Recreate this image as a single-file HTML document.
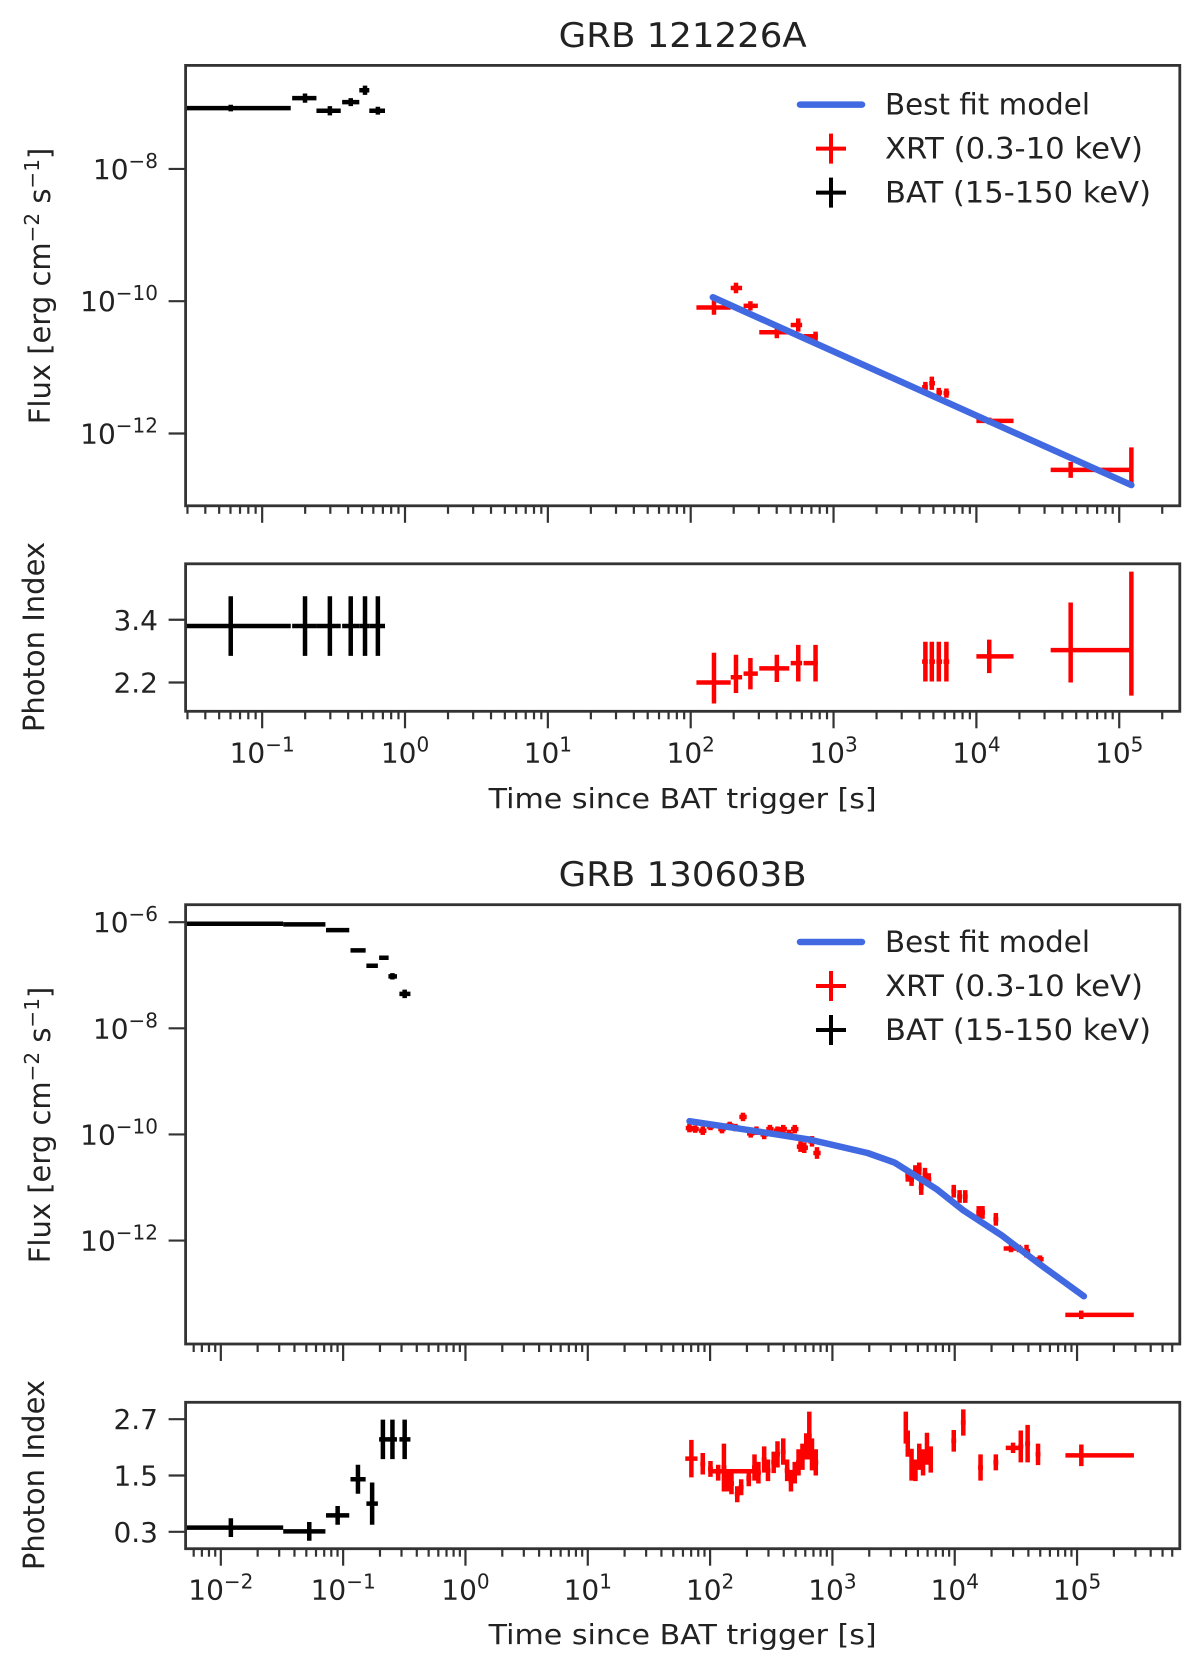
<!DOCTYPE html>
<html><head><meta charset="utf-8"><style>
html,body{margin:0;padding:0;background:#fff;}
svg{display:block;font-family:"DejaVu Sans","Liberation Sans",sans-serif;}
</style></head><body>
<svg id="fig" width="1200" height="1672" viewBox="0 0 1200 1672" xmlns="http://www.w3.org/2000/svg"></svg>
<script>
// ---------- GRB 121226A data (log10 time [s], log10 flux, photon index) ----------
const g1BatT   = [-1.22,-0.70,-0.526,-0.38,-0.28,-0.19];
const g1BatLo  = [-1.8,-0.79,-0.62,-0.44,-0.32,-0.25];
const g1BatHi  = [-0.80,-0.62,-0.45,-0.32,-0.25,-0.14];
const g1BatF   = [-7.08,-6.93,-7.12,-6.99,-6.81,-7.12];
const g1BatFe  = [0.05,0.07,0.07,0.06,0.07,0.06];
const g1BatIdx = [3.28,3.28,3.28,3.28,3.28,3.28];
const g1BatIe  = [0.57,0.57,0.57,0.57,0.57,0.57];

const g1XrtT   = [2.163,2.317,2.418,2.603,2.753,2.874,3.643,3.688,3.737,3.79,4.09,4.66,5.085];
const g1XrtLo  = [2.04,2.28,2.37,2.48,2.70,2.79,3.62,3.67,3.72,3.77,4.00,4.52,5.085];
const g1XrtHi  = [2.28,2.36,2.47,2.69,2.78,2.89,3.66,3.71,3.76,3.81,4.26,5.08,5.085];
const g1XrtF   = [-10.095,-9.80,-10.07,-10.47,-10.36,-10.53,-11.30,-11.24,-11.38,-11.39,-11.81,-12.55,-12.50];
const g1XrtFe  = [0.11,0.08,0.07,0.09,0.1,0.07,0.08,0.1,0.07,0.07,0.05,0.12,0.29];
const g1XrtIdx = [2.2,2.3,2.37,2.47,2.57,2.57,2.6,2.6,2.6,2.6,2.7,2.82,2.82];
const g1XrtIup = [0.57,0.43,0.3,0.26,0.35,0.35,0.38,0.38,0.38,0.38,0.32,0.91,1.5];
const g1XrtIdn = [0.40,0.30,0.3,0.26,0.35,0.35,0.38,0.38,0.38,0.38,0.32,0.62,0.87];
const g1ModelT = [2.155,5.085];
const g1ModelF = [-9.94,-12.78];

// ---------- GRB 130603B data ----------
const g2BatT   = [-1.918,-1.277,-1.045,-0.879,-0.763,-0.675,-0.597,-0.497];
const g2BatLo  = [-2.6,-1.49,-1.14,-0.94,-0.81,-0.706,-0.63,-0.54];
const g2BatHi  = [-1.49,-1.145,-0.95,-0.816,-0.716,-0.628,-0.56,-0.45];
const g2BatF   = [-6.03,-6.04,-6.15,-6.53,-6.82,-6.67,-7.02,-7.35];
const g2BatFe  = [0.01,0.01,0.01,0.01,0.01,0.03,0.06,0.08];
const g2BatIdx = [0.39,0.31,0.65,1.42,0.90,2.27,2.27,2.27];
const g2BatIe  = [0.2,0.2,0.2,0.31,0.45,0.42,0.42,0.42];

const g2XrtT  = [1.831,1.878,1.94,2.003,2.097,2.16,2.207,2.269,2.332,2.379,2.442,2.489,2.551,2.598,2.645,2.692,2.739,2.77,2.833,2.874,
                 3.616,3.647,3.678,3.71,3.726,3.757,3.788,3.992,4.04,4.086,4.196,4.227,4.336,4.46,4.525,4.587,4.697,5.034];
const g2XrtF  = [-9.88,-9.90,-9.93,-9.85,-9.90,-9.83,-9.87,-9.67,-9.98,-9.93,-10.0,-9.90,-9.93,-9.90,-10.0,-9.90,-10.23,-10.25,-10.13,-10.35,
                 -10.77,-10.85,-10.70,-10.65,-11.0,-10.75,-10.85,-11.07,-11.17,-11.17,-11.47,-11.47,-11.60,-12.15,-12.15,-12.20,-12.35,-13.40];
const g2XrtFe = [0.08,0.07,0.08,0.07,0.08,0.07,0.07,0.08,0.08,0.08,0.09,0.08,0.08,0.08,0.09,0.08,0.1,0.1,0.1,0.11,
                 0.12,0.12,0.12,0.12,0.14,0.12,0.12,0.12,0.12,0.12,0.12,0.12,0.12,0.07,0.07,0.12,0.07,0.08];
const g2XrtXl = [0.03,0.03,0.03,0.03,0.03,0.03,0.03,0.03,0.03,0.03,0.03,0.03,0.03,0.03,0.03,0.03,0.03,0.03,0.03,0.03,
                 0.02,0.02,0.02,0.02,0.02,0.02,0.02,0.02,0.02,0.02,0.02,0.02,0.02,0.06,0.03,0.03,0.03,0.13];
const g2XrtXh = [0.03,0.03,0.03,0.03,0.03,0.03,0.03,0.03,0.03,0.03,0.03,0.03,0.03,0.03,0.03,0.03,0.03,0.03,0.03,0.03,
                 0.02,0.02,0.02,0.02,0.02,0.02,0.02,0.02,0.02,0.02,0.02,0.02,0.02,0.06,0.03,0.03,0.03,0.43];

const g2IdxT  = [1.847,1.94,2.003,2.066,2.113,2.144,2.175,2.222,2.254,2.316,2.363,2.395,2.442,2.473,2.52,2.551,2.598,2.63,2.661,2.692,2.723,2.755,2.786,2.811,2.833,2.864,
                 3.60,3.616,3.647,3.679,3.71,3.741,3.773,3.804,3.992,4.07,4.211,4.336,4.477,4.54,4.596,4.681,5.035,2.2];
const g2Idx   = [1.86,1.75,1.64,1.56,1.67,1.39,1.33,1.10,1.25,1.44,1.67,1.56,1.84,1.61,1.78,1.95,2.01,1.61,1.39,1.56,1.78,1.90,2.12,2.35,1.95,1.78,
                 2.52,2.18,1.73,1.61,1.90,1.78,2.07,1.84,2.24,2.63,1.67,1.78,2.09,2.12,2.18,1.95,1.93,1.59];
const g2IdxE  = [0.40,0.23,0.17,0.17,0.51,0.23,0.23,0.17,0.17,0.17,0.28,0.23,0.28,0.23,0.23,0.28,0.28,0.23,0.23,0.23,0.28,0.28,0.28,0.51,0.34,0.28,
                 0.34,0.28,0.34,0.23,0.28,0.28,0.34,0.28,0.23,0.28,0.28,0.17,0.11,0.34,0.40,0.23,0.23,0.0];
const g2IdxXl = [0.05,0.02,0.02,0.02,0.02,0.02,0.02,0.02,0.02,0.02,0.02,0.02,0.02,0.02,0.02,0.02,0.02,0.02,0.02,0.02,0.02,0.02,0.02,0.02,0.02,0.02,
                 0.01,0.01,0.01,0.01,0.01,0.01,0.01,0.01,0.02,0.02,0.02,0.02,0.06,0.02,0.02,0.02,0.13,0.19];
const g2IdxXh = [0.05,0.02,0.02,0.02,0.02,0.02,0.02,0.02,0.02,0.02,0.02,0.02,0.02,0.02,0.02,0.02,0.02,0.02,0.02,0.02,0.02,0.02,0.02,0.02,0.02,0.02,
                 0.01,0.01,0.01,0.01,0.01,0.01,0.01,0.01,0.02,0.02,0.02,0.02,0.08,0.02,0.02,0.02,0.43,0.19];

const g2ModelT = [1.832,2.35,2.82,3.287,3.507,3.694,3.851,4.07,4.383,4.697,5.056];
const g2ModelF = [-9.75,-9.93,-10.10,-10.35,-10.53,-10.80,-11.03,-11.43,-11.90,-12.45,-13.05];

// tick label arrays
const g1FluxTicks = [-8,-10,-12];
const g1IdxTicks  = ["3.4","2.2"];
const g1XTicks    = [-1,0,1,2,3,4,5];
const g2FluxTicks = [-6,-8,-10,-12];
const g2IdxTicks  = ["2.7","1.5","0.3"];
const g2XTicks    = [-2,-1,0,1,2,3,4,5];

const NS = "http://www.w3.org/2000/svg";
const svg = document.getElementById('fig');
function mk(tag, attrs, parent){ const e=document.createElementNS(NS,tag); for(const k in attrs) e.setAttribute(k,attrs[k]); (parent||svg).appendChild(e); return e; }

const X0=185.6, X1=1179.8;
const EW=4.5;
function panel(id,y0,y1,xmin,xmax,ymin,ymax){
  return {id,y0,y1,xmin,xmax,ymin,ymax,
    sx:v=>X0+(v-xmin)/(xmax-xmin)*(X1-X0),
    sy:v=>y1-(v-ymin)/(ymax-ymin)*(y1-y0)};
}
const P1=panel('p1',65.4,505.8,-1.536,5.424,-13.093,-6.435);
const P2=panel('p2',563.8,711.3,-1.536,5.424,1.65,4.47);
const P3=panel('p3',904.7,1344,-2.288,5.84,-13.95,-5.67);
const P4=panel('p4',1402.3,1548.7,-2.288,5.84,-0.06,3.06);

const defs=mk('defs',{});
function setupClip(P){
  const c=mk('clipPath',{id:'clip-'+P.id},defs);
  mk('rect',{x:X0,y:P.y0,width:X1-X0,height:P.y1-P.y0},c);
  const g=mk('g',{'clip-path':'url(#clip-'+P.id+')'});
  
  
  P.g=g;
}
[P1,P2,P3,P4].forEach(setupClip);

function err(P,x,xl,xh,y,yl,yh,col,w,name){
  const g=mk('g',{stroke:col,'stroke-width':w,fill:'none'},P.g);
  
  
  mk('line',{x1:P.sx(xl),x2:P.sx(xh),y1:P.sy(y),y2:P.sy(y)},g);
  mk('line',{x1:P.sx(x),x2:P.sx(x),y1:P.sy(yl),y2:P.sy(yh)},g);
}
function frame(P,name){
  const r=mk('rect',{x:X0,y:P.y0,width:X1-X0,height:P.y1-P.y0,fill:'none',stroke:'#333','stroke-width':2.8});
  
  
}
function xTicks(P,majors,labels){
  const g=mk('g',{stroke:'#333','stroke-width':2.2});
  
  
  for(let d=Math.floor(P.xmin)-1; d<=Math.ceil(P.xmax); d++){
    for(let m=1;m<10;m++){
      const v=d+Math.log10(m);
      if(v<P.xmin||v>P.xmax) continue;
      const len=m===1?17:8;
      mk('line',{x1:P.sx(v),x2:P.sx(v),y1:P.y1,y2:P.y1+len},g);
    }
  }
  if(labels){
    majors.forEach(d=>{
      const t=mk('text',{x:P.sx(d),y:P.y1+51,'text-anchor':'middle','font-size':28,fill:'#222'});
      
      
      t.appendChild(document.createTextNode('10'));
      const s=mk('tspan',{dy:-11,'font-size':20},t); s.textContent=String(d).replace('-','\u2212');
    });
  }
}
function yTicksLog(P,ticks){
  ticks.forEach(d=>{
    const y=P.sy(d);
    const l=mk('line',{x1:X0-17,x2:X0,y1:y,y2:y,stroke:'#333','stroke-width':2.2});
    
    
    const t=mk('text',{x:158,y:y+10,'text-anchor':'end','font-size':28,fill:'#222'});
    
    
    t.appendChild(document.createTextNode('10'));
    const s=mk('tspan',{dy:-11,'font-size':20},t); s.textContent=String(d).replace('-','\u2212');
  });
}
function yTicksLin(P,ticks){
  ticks.forEach(lbl=>{
    const y=P.sy(parseFloat(lbl));
    const l=mk('line',{x1:X0-17,x2:X0,y1:y,y2:y,stroke:'#333','stroke-width':2.2});
    
    
    const t=mk('text',{x:158,y:y+10,'text-anchor':'end','font-size':28,fill:'#222'});
    
    
    t.textContent=lbl;
  });
}
function model(P,ts,fs){
  const pts=ts.map((t,i)=>P.sx(t)+','+P.sy(fs[i])).join(' ');
  const pl=mk('polyline',{points:pts,fill:'none',stroke:'#4169e1','stroke-width':6.5,'stroke-linecap':'round','stroke-linejoin':'round'},P.g);
  
  
}
function title(txt,y){
  const t=mk('text',{x:(X0+X1)/2,y:y,'text-anchor':'middle','font-size':34,fill:'#222',textLength:248,lengthAdjust:'spacingAndGlyphs'});
  
  
  t.textContent=txt;
}
function xlabel(y){
  const t=mk('text',{x:(X0+X1)/2,y:y,'text-anchor':'middle','font-size':28,fill:'#222',textLength:388,lengthAdjust:'spacingAndGlyphs'});
  
  
  t.textContent='Time since BAT trigger [s]';
}
function ylabelFlux(cy){
  const t=mk('text',{x:0,y:0,'text-anchor':'middle','font-size':29,fill:'#222',transform:`translate(50,${cy}) rotate(-90)`});
  
  
  t.appendChild(document.createTextNode('Flux [erg cm'));
  let s=mk('tspan',{dy:-11,'font-size':20},t); s.textContent='\u22122';
  s=mk('tspan',{dy:11},t); s.textContent=' s';
  s=mk('tspan',{dy:-11,'font-size':20},t); s.textContent='\u22121';
  s=mk('tspan',{dy:11},t); s.textContent=']';
}
function ylabelIdx(cy){
  const t=mk('text',{x:0,y:0,'text-anchor':'middle','font-size':29,fill:'#222',transform:`translate(44,${cy}) rotate(-90)`});
  
  
  t.textContent='Photon Index';
}
function legend(y1){
  const g=mk('g',{});
  
  
  mk('line',{x1:800,x2:862,y1:y1,y2:y1,stroke:'#4169e1','stroke-width':6.5,'stroke-linecap':'round'},g);
  const rows=[['Best fit model',null,205],['XRT (0.3-10 keV)','red',258],['BAT (15-150 keV)','black',266]];
  rows.forEach((r,i)=>{
    const y=y1+i*44;
    if(r[1]){
      mk('line',{x1:816,x2:846,y1:y,y2:y,stroke:r[1],'stroke-width':4},g);
      mk('line',{x1:831,x2:831,y1:y-15,y2:y+15,stroke:r[1],'stroke-width':4},g);
    }
    const t=mk('text',{x:885,y:y+10,'font-size':29,fill:'#222',textLength:r[2],lengthAdjust:'spacingAndGlyphs'},g);
    
    
    t.textContent=r[0];
  });
}

// ===== Figure 1 =====
title('GRB 121226A',47);
g1BatT.forEach((t,i)=>err(P1,t,g1BatLo[i],g1BatHi[i],g1BatF[i],g1BatF[i]-g1BatFe[i],g1BatF[i]+g1BatFe[i],'#000',EW,'bat-flux-point'));
g1XrtT.forEach((t,i)=>err(P1,t,g1XrtLo[i],g1XrtHi[i],g1XrtF[i],g1XrtF[i]-g1XrtFe[i],g1XrtF[i]+g1XrtFe[i],'red',EW,'xrt-flux-point'));
model(P1,g1ModelT,g1ModelF);
g1BatT.forEach((t,i)=>err(P2,t,g1BatLo[i],g1BatHi[i],g1BatIdx[i],g1BatIdx[i]-g1BatIe[i],g1BatIdx[i]+g1BatIe[i],'#000',EW,'bat-index-point'));
g1XrtT.forEach((t,i)=>err(P2,t,g1XrtLo[i],g1XrtHi[i],g1XrtIdx[i],g1XrtIdx[i]-g1XrtIdn[i],g1XrtIdx[i]+g1XrtIup[i],'red',EW,'xrt-index-point'));
frame(P1,'flux-panel-frame-1'); frame(P2,'index-panel-frame-1');
xTicks(P1,g1XTicks,false); xTicks(P2,g1XTicks,true);
yTicksLog(P1,g1FluxTicks); yTicksLin(P2,g1IdxTicks);
xlabel(808); ylabelFlux(286); ylabelIdx(637);
legend(104.6);

// ===== Figure 2 =====
title('GRB 130603B',886);
g2BatT.forEach((t,i)=>err(P3,t,g2BatLo[i],g2BatHi[i],g2BatF[i],g2BatF[i]-g2BatFe[i],g2BatF[i]+g2BatFe[i],'#000',EW,'bat-flux-point'));
g2XrtT.forEach((t,i)=>err(P3,t,t-g2XrtXl[i],t+g2XrtXh[i],g2XrtF[i],g2XrtF[i]-g2XrtFe[i],g2XrtF[i]+g2XrtFe[i],'red',EW,'xrt-flux-point'));
model(P3,g2ModelT,g2ModelF);
g2BatT.forEach((t,i)=>err(P4,t,g2BatLo[i],g2BatHi[i],g2BatIdx[i],g2BatIdx[i]-g2BatIe[i],g2BatIdx[i]+g2BatIe[i],'#000',EW,'bat-index-point'));
g2IdxT.forEach((t,i)=>err(P4,t,t-g2IdxXl[i],t+g2IdxXh[i],g2Idx[i],g2Idx[i]-g2IdxE[i],g2Idx[i]+g2IdxE[i],'red',EW,'xrt-index-point'));
frame(P3,'flux-panel-frame-2'); frame(P4,'index-panel-frame-2');
xTicks(P3,g2XTicks,false); xTicks(P4,g2XTicks,true);
yTicksLog(P3,g2FluxTicks); yTicksLin(P4,g2IdxTicks);
xlabel(1644); ylabelFlux(1125); ylabelIdx(1475);
legend(942);
</script>
</body></html>
